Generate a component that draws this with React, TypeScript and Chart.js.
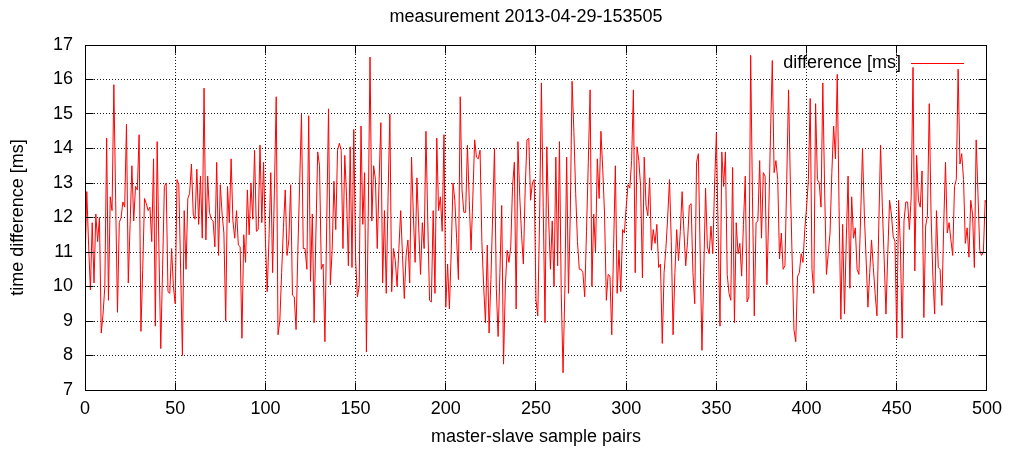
import React, { useEffect, useRef } from "react";
import { Chart, registerables } from "chart.js";

Chart.register(...registerables);

const TITLE = "measurement 2013-04-29-153505";
const X_LABEL = "master-slave sample pairs";
const Y_LABEL = "time difference [ms]";
const SERIES_LABEL = "difference [ms]";

const X_MIN = 0;
const X_MAX = 500;
const X_STEP = 50;
const Y_MIN = 7;
const Y_MAX = 17;
const Y_STEP = 1;

// time difference [ms], samples 0..99
const diff000 = [
  10.6, 12.75, 11.2, 9.9, 11.85, 10.1, 12.1, 11.3, 12.0, 8.65,
  9.2, 10.0, 14.3, 9.6, 12.6, 12.2, 15.85, 12.5, 9.25, 11.85,
  12.0, 12.45, 12.3, 14.7, 10.1, 11.8, 13.5, 11.9, 12.9, 12.8,
  14.4, 8.7, 10.5, 12.55, 12.4, 12.2, 12.3, 11.3, 13.7, 8.85,
  14.2, 11.0, 8.2, 10.5, 12.9, 13.0, 9.85, 9.8, 11.1, 10.0,
  9.5, 13.1, 12.95, 10.5, 8.0, 12.2, 10.5, 12.55, 12.7, 13.55,
  12.1, 11.95, 13.4, 11.8, 13.2, 11.4, 15.75, 11.35, 13.2, 12.15,
  11.95, 11.9, 11.15, 13.6, 10.9, 12.95, 12.1, 11.55, 9.0, 12.9,
  11.85, 13.7, 11.9, 11.4, 12.2, 11.2, 11.15, 8.5, 11.5, 10.7,
  12.8, 11.5, 13.0, 11.95, 13.95, 11.6, 11.65, 14.1, 11.85, 13.6,
];
// samples 100..199
const diff100 = [
  11.35, 9.85, 11.4, 13.3, 10.4, 12.8, 15.5, 8.6, 9.0, 10.4,
  11.7, 12.8, 10.9, 11.35, 12.95, 9.75, 9.7, 8.75, 11.05, 13.0,
  15.0, 11.1, 11.1, 10.5, 14.95, 10.15, 12.1, 8.95, 11.55, 13.9,
  13.5, 10.5, 10.65, 8.4, 11.85, 15.15, 10.05, 11.05, 13.05, 11.65,
  13.95, 14.15, 13.95, 11.1, 13.8, 12.6, 10.6, 14.05, 10.55, 14.55,
  10.8, 9.7, 10.0, 14.65, 11.8, 13.3, 8.1, 12.0, 16.65, 11.9,
  13.5, 13.1, 11.1, 13.0, 14.75, 10.1, 12.2, 9.8, 12.6, 15.0,
  9.85, 11.1, 10.75, 10.0, 11.1, 12.2, 10.9, 9.65, 10.9, 11.35,
  10.1, 13.75, 12.1, 10.7, 13.15, 11.7, 10.35, 11.85, 11.1, 14.5,
  11.9, 9.6, 9.55, 12.2, 9.8, 14.3, 12.2, 12.6, 11.6, 14.4,
];
// samples 200..299
const diff200 = [
  9.4, 10.65, 9.35, 11.0, 13.0, 12.5, 11.4, 10.2, 15.5, 12.8,
  12.15, 12.15, 14.1, 12.5, 11.05, 12.6, 14.25, 13.75, 13.7, 13.95,
  11.3, 10.0, 8.95, 11.2, 8.65, 10.2, 12.1, 14.0, 9.95, 8.55,
  10.4, 12.35, 7.75, 10.0, 11.05, 10.7, 11.15, 12.9, 13.6, 9.35,
  14.2, 12.6, 11.5, 10.65, 12.8, 14.25, 14.3, 12.5, 13.0, 13.1,
  9.6, 9.15, 12.0, 15.9, 12.3, 8.95, 14.05, 12.0, 10.5, 11.9,
  10.0, 13.75, 10.6, 14.2, 9.8, 7.5, 9.9, 13.75, 9.8, 12.1,
  15.95, 14.5, 12.7, 11.3, 10.5, 10.5, 10.4, 9.7, 11.6, 13.6,
  15.7, 10.0, 12.1, 11.0, 13.7, 12.55, 14.5, 13.4, 12.1, 9.6,
  10.35, 10.3, 8.6, 11.1, 13.5, 9.8, 11.05, 9.85, 11.65, 11.55,
];
// samples 300..399
const diff300 = [
  12.3, 12.95, 12.85, 13.65, 15.7, 10.4, 14.05, 13.65, 12.9, 10.25,
  13.75, 12.35, 12.05, 13.15, 11.05, 11.65, 11.25, 11.8, 10.55, 10.65,
  8.35, 10.4, 11.1, 12.0, 13.1, 11.3, 8.6, 10.4, 11.65, 10.75,
  11.6, 12.75, 11.6, 10.6, 11.3, 12.35, 12.4, 10.4, 9.5, 13.6,
  13.85, 11.0, 8.15, 10.4, 12.85, 11.15, 10.95, 11.75, 10.95, 12.95,
  14.45, 11.5, 8.85, 13.9, 12.9, 13.9, 10.35, 9.8, 9.6, 13.45,
  8.95, 11.85, 10.95, 11.25, 10.3, 11.8, 13.2, 9.55, 9.7, 16.7,
  12.6, 9.15, 11.85, 11.9, 13.65, 11.4, 13.3, 13.2, 10.05, 12.1,
  14.4, 16.55, 13.3, 13.65, 13.1, 10.8, 11.55, 10.5, 10.6, 13.1,
  15.7, 13.0, 10.8, 8.75, 8.4, 10.3, 10.4, 10.95, 10.7, 11.65,
];
// samples 400..500
const diff400 = [
  12.3, 13.1, 15.45, 10.5, 9.8, 15.3, 13.1, 13.0, 12.3, 15.9,
  12.8, 10.35, 10.95, 11.55, 13.3, 14.65, 13.7, 16.15, 12.3, 9.05,
  11.8, 9.2, 11.35, 13.2, 9.95, 12.6, 11.4, 11.7, 10.5, 10.35,
  12.1, 14.0, 12.1, 10.8, 9.4, 10.4, 11.35, 10.55, 9.8, 9.15,
  11.7, 14.1, 12.3, 10.8, 9.2, 10.95, 12.5, 12.1, 11.45, 11.3,
  8.5, 12.5, 11.15, 8.5, 11.9, 12.45, 12.45, 11.65, 12.6, 16.35,
  10.45, 13.8, 12.5, 12.3, 13.35, 9.1, 11.75, 12.05, 15.3, 12.1,
  10.3, 9.2, 12.2, 10.55, 10.5, 9.45, 11.75, 13.6, 11.55, 11.85,
  11.35, 10.9, 12.9, 13.1, 16.3, 13.55, 13.85, 13.1, 11.25, 11.7,
  10.85, 12.5, 12.1, 10.55, 14.25, 12.7, 11.05, 10.9, 11.0, 12.5,
  12.4,
];

const differenceMs = [...diff000, ...diff100, ...diff200, ...diff300, ...diff400];
const sampleIndex = differenceMs.map((_, i) => i);

const FONT = '"Liberation Sans", Arial, Helvetica, sans-serif';

export default function App() {
  const ref = useRef<HTMLCanvasElement>(null);

  useEffect(() => {
    const canvas = ref.current;
    if (!canvas) return;

    const align = (p: number) => Math.round(p - 0.5) + 0.5;

    const framePlugin = {
      id: "gnuplotFrame",
      afterDatasetsDraw(chart: any) {
        const { ctx, chartArea: a, scales } = chart;
        const xs = scales.x;
        const ys = scales.y;
        const L = align(a.left);
        const R = align(a.right);
        const T = align(a.top);
        const B = align(a.bottom);
        const tick = 8;
        ctx.save();
        ctx.strokeStyle = "#000";
        ctx.lineWidth = 1;
        ctx.beginPath();
        ctx.rect(L, T, R - L, B - T);
        xs.ticks.forEach((t: any) => {
          const px = align(xs.getPixelForValue(t.value));
          ctx.moveTo(px, B);
          ctx.lineTo(px, B - tick);
          ctx.moveTo(px, T);
          ctx.lineTo(px, T + tick);
        });
        ys.ticks.forEach((t: any) => {
          const py = align(ys.getPixelForValue(t.value));
          ctx.moveTo(L, py);
          ctx.lineTo(L + tick, py);
          ctx.moveTo(R, py);
          ctx.lineTo(R - tick, py);
        });
        ctx.stroke();

        // title above the plot
        ctx.font = `18px ${FONT}`;
        ctx.fillStyle = "#000";
        ctx.textAlign = "center";
        ctx.textBaseline = "middle";
        ctx.fillText(TITLE, (a.left + a.right) / 2 - 10, a.top - 28);

        // key (legend) in the top right, gnuplot style
        ctx.textAlign = "right";
        const ky = a.top + 18;
        ctx.fillText(SERIES_LABEL, a.right - 86, ky);
        ctx.strokeStyle = "#ff0000";
        ctx.beginPath();
        ctx.moveTo(a.right - 76, align(ky));
        ctx.lineTo(a.right - 23, align(ky));
        ctx.stroke();
        ctx.restore();
      },
    };

    const chart = new Chart(canvas, {
      type: "line",
      data: {
        labels: sampleIndex,
        datasets: [
          {
            label: SERIES_LABEL,
            data: differenceMs,
            borderColor: "#ff0000",
            backgroundColor: "#ff0000",
            borderWidth: 1,
            pointRadius: 0,
            tension: 0,
            fill: false,
          },
        ],
      },
      options: {
        animation: false,
        responsive: false,
        devicePixelRatio: 1,
        events: [],
        layout: { padding: { left: 0, right: 22, top: 45, bottom: 0 } },
        plugins: {
          legend: { display: false },
          tooltip: { enabled: false },
          title: { display: false },
        },
        scales: {
          x: {
            type: "linear",
            position: "bottom",
            min: X_MIN,
            max: X_MAX,
            afterFit: (s: any) => {
              s.height = 60;
            },
            ticks: {
              stepSize: X_STEP,
              color: "#000",
              padding: 8,
              maxRotation: 0,
              font: { family: FONT, size: 18 },
            },
            grid: { color: "rgba(0,0,0,0.9)", lineWidth: 1, drawTicks: false },
            border: { display: false, dash: [1, 2] },
            title: {
              display: true,
              text: X_LABEL,
              color: "#000",
              font: { family: FONT, size: 18 },
              padding: { top: 0, bottom: 2 },
            },
          },
          y: {
            type: "linear",
            position: "left",
            min: Y_MIN,
            max: Y_MAX,
            afterFit: (s: any) => {
              s.width = 85;
            },
            ticks: {
              stepSize: Y_STEP,
              color: "#000",
              padding: 12,
              font: { family: FONT, size: 18 },
            },
            grid: { color: "rgba(0,0,0,0.9)", lineWidth: 1, drawTicks: false },
            border: { display: false, dash: [1, 2] },
            title: {
              display: true,
              text: Y_LABEL,
              color: "#000",
              font: { family: FONT, size: 18 },
              padding: { top: 7, bottom: 0 },
            },
          },
        },
      },
      plugins: [framePlugin],
    } as any);

    return () => chart.destroy();
  }, []);

  return (
    <div style={{ position: "absolute", left: 0, top: 0, width: 1010, height: 450, background: "#fff" }}>
      <canvas ref={ref} width={1010} height={450} style={{ display: "block" }} />
    </div>
  );
}
